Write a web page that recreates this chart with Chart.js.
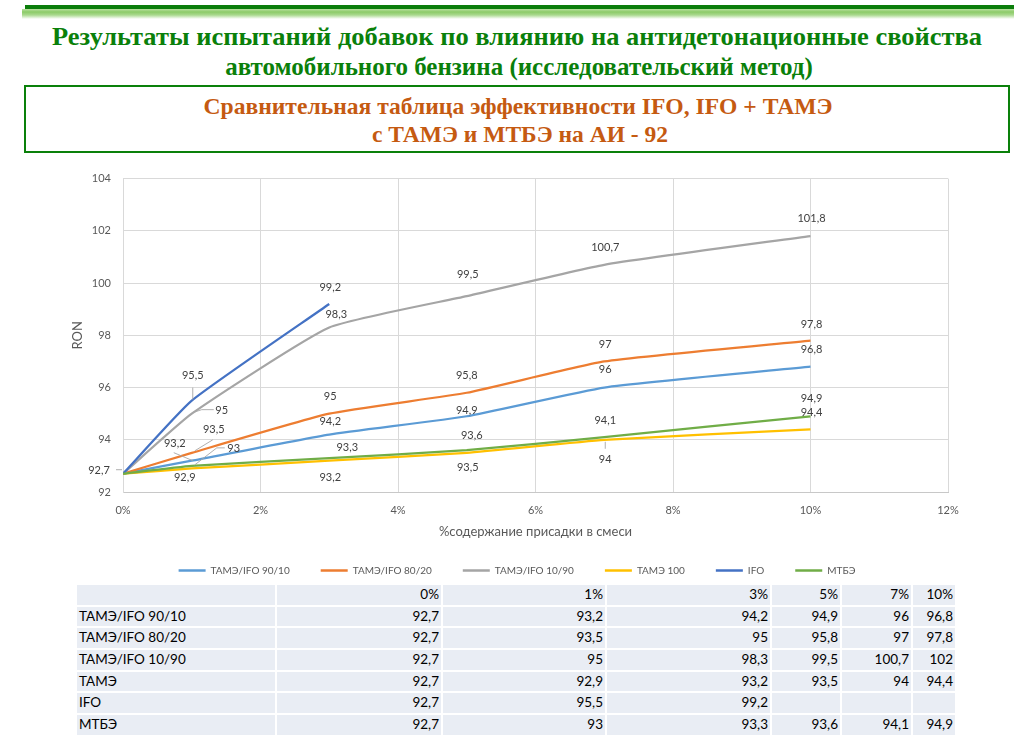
<!DOCTYPE html>
<html><head><meta charset="utf-8">
<script src="https://cdn.jsdelivr.net/npm/chart.js@4.4.1/dist/chart.umd.min.js"></script>
<style>
html,body{margin:0;padding:0;background:#fff;}
body{width:1029px;height:736px;overflow:hidden;position:relative;font-family:Lato,sans-serif;}
.bar{position:absolute;left:25px;top:5px;width:989px;height:4px;background:#0b7d0b;}
.glow{position:absolute;left:22px;top:9px;width:992px;height:10px;background:linear-gradient(to bottom,#b9e0a0 0%,#8ccb68 30%,#a9d98e 60%,#ffffff 100%);}
.ttl{position:absolute;white-space:nowrap;font-family:"Liberation Serif",serif;font-weight:bold;display:inline-block;}
.t1{font-size:26px;line-height:26px;color:#0a800a;}
.t2{font-size:24px;line-height:24px;color:#c55a11;}
.box{position:absolute;left:24px;top:85px;width:982px;height:64px;border:2.5px solid #0a800a;}
#wrap{position:absolute;left:0;top:160px;width:1029px;height:426px;z-index:2;}
#tbl{position:absolute;left:75px;top:583px;border-collapse:separate;border-spacing:2px;font-family:Lato,sans-serif;font-size:13.5px;color:#000;table-layout:fixed;width:882px;z-index:1;}
#tbl td{background:#e9edf4;height:19.67px;padding:0 2px;line-height:19.67px;text-align:right;box-sizing:border-box;white-space:nowrap;overflow:hidden;}
#tbl td:first-child{text-align:left;}
</style>
</head><body>
<div class="bar"></div><div class="glow"></div>
<span class="ttl t1" id="h1">Результаты испытаний добавок по влиянию на антидетонационные свойства</span>
<span class="ttl t1" id="h2">автомобильного бензина (исследовательский метод)</span>
<div class="box"></div>
<span class="ttl t2" id="s1">Сравнительная таблица эффективности IFO, IFO + ТАМЭ</span>
<span class="ttl t2" id="s2">с ТАМЭ и МТБЭ на АИ - 92</span>
<div id="wrap"><canvas id="c" width="1029" height="426"></canvas></div>
<table id="tbl"><colgroup><col style="width:198px"><col style="width:164px"><col style="width:162px"><col style="width:163px"><col style="width:68px"><col style="width:69px"><col style="width:42px"></colgroup><tbody id="tb"></tbody></table>
<script>
// ---- data ----
const percents = [0, 1, 3, 5, 7, 10];
const seriesNames = ['ТАМЭ/IFO 90/10', 'ТАМЭ/IFO 80/20', 'ТАМЭ/IFO 10/90', 'ТАМЭ 100', 'IFO', 'МТБЭ'];
const tameIfo90_10 = [92.7, 93.2, 94.2, 94.9, 96, 96.8];
const tameIfo80_20 = [92.7, 93.5, 95, 95.8, 97, 97.8];
const tameIfo10_90 = [92.7, 95, 98.3, 99.5, 100.7, 101.8];
const tame100 = [92.7, 92.9, 93.2, 93.5, 94, 94.4];
const ifo = [92.7, 95.5, 99.2];
const mtbe = [92.7, 93, 93.3, 93.6, 94.1, 94.9];
const tableRowNames = ['ТАМЭ/IFO 90/10', 'ТАМЭ/IFO 80/20', 'ТАМЭ/IFO 10/90', 'ТАМЭ', 'IFO', 'МТБЭ'];
const tableOverrides = {'2-5': '102'}; // cell shown rounded in the source table
const xTitle = '%содержание присадки в смеси';
const yTitle = 'RON';

const allSeries = [tameIfo90_10, tameIfo80_20, tameIfo10_90, tame100, ifo, mtbe];
const colors = ['#5b9bd5', '#ed7d31', '#a5a5a5', '#ffc000', '#4472c4', '#70ad47'];

// label placement (offsets from the point in px, optional leader line)
const labelPlacement = [
  [[-24, -3.5, [[-7, -4], [-1, -4]]], [-17, -17, [[-18, -8], [1, 0]]], [1, -13], [0, -6], [1, -18], [1, -17]],
  [null, [22, -23, [[21, -13], [3, -2]]], [1, -17], [0, -17], [1, -17], [1, -16]],
  [null, [30, -3, [[22, -4], [10, -4], [1, -1]]], [7, -13], [1, -22], [1, -17], [1, -18]],
  [null, [-7, 9], [1, 17], [1, 15], [1, 20, [[1, 2], [1, 9]]], [1, -17]],
  [null, [1, -25, [[1, -13], [1, -1]]], [1, -17]],
  [null, [42, -17, [[33, -18], [25, -18], [3, -1]]], [18, -11], [5, -15], [1, -17], [1, -18]]
];

const fmt = v => String(v).replace('.', ',');

function fit(id, cx, cy, w) {
  const el = document.getElementById(id);
  el.style.left = cx + 'px'; el.style.top = cy + 'px';
  const s = w / el.offsetWidth;
  el.style.transform = 'translate(-50%,-50%) scaleX(' + s + ')';
}

function buildTable() {
  const tb = document.getElementById('tb');
  let html = '<tr><td></td>' + percents.map(p => '<td>' + p + '%</td>').join('') + '</tr>';
  tableRowNames.forEach((n, r) => {
    html += '<tr><td>' + n + '</td>';
    percents.forEach((p, i) => {
      const v = allSeries[r][i];
      const key = r + '-' + i;
      html += '<td>' + (v === undefined ? '' : (tableOverrides[key] || fmt(v))) + '</td>';
    });
    html += '</tr>';
  });
  tb.innerHTML = html;
}

const labelPlugin = {
  id: 'pointLabels',
  afterLayout(chart) {
    if (chart.legend) { chart.legend.left += 10; chart.legend.right += 10; }
  },
  afterDatasetsDraw(chart) {
    const ctx = chart.ctx;
    ctx.save();
    ctx.font = '11px Lato';
    ctx.fillStyle = '#404040';
    ctx.strokeStyle = '#a6a6a6';
    ctx.lineWidth = 0.9;
    ctx.textAlign = 'center';
    ctx.textBaseline = 'middle';
    chart.data.datasets.forEach((ds, di) => {
      const meta = chart.getDatasetMeta(di);
      const place = labelPlacement[di];
      meta.data.forEach((pt, i) => {
        const p = place[i];
        if (!p) return;
        const [dx, dy, leader] = p;
        if (leader) {
          ctx.beginPath();
          leader.forEach(([lx, ly], k) => k ? ctx.lineTo(pt.x + lx, pt.y + ly) : ctx.moveTo(pt.x + lx, pt.y + ly));
          ctx.stroke();
        }
        ctx.fillText(fmt(ds.data[i].y), pt.x + dx, pt.y + dy);
      });
    });
    ctx.restore();
  }
};

function draw() {
  fit('h1', 517, 37, 930);
  fit('h2', 518.5, 67, 587);
  fit('s1', 517.5, 106, 629);
  fit('s2', 520, 134, 296);
  buildTable();

  const datasets = allSeries.map((vals, si) => ({
    label: seriesNames[si],
    data: vals.map((v, i) => ({x: percents[i], y: v})),
    borderColor: colors[si],
    backgroundColor: colors[si],
    borderWidth: 2.25,
    pointRadius: 0,
    tension: 0.15,
    fill: false,
    order: -si
  }));

  new Chart(document.getElementById('c'), {
    type: 'line',
    data: {datasets},
    plugins: [labelPlugin],
    options: {
      responsive: false,
      animation: false,
      layout: {padding: {left: 66, right: 81, top: 18, bottom: 0.5}},
      plugins: {
        tooltip: {enabled: false},
        legend: {
          position: 'bottom',
          labels: {
            boxWidth: 27, boxHeight: 2.5, padding: 31, color: '#595959',
            font: {family: 'Lato', size: 10},
            sort: (a, b) => a.datasetIndex - b.datasetIndex,
            generateLabels(chart) {
              const items = Chart.defaults.plugins.legend.labels.generateLabels(chart);
              items.forEach(it => { it.lineWidth = 0; it.fillStyle = colors[it.datasetIndex]; });
              return items;
            }
          }
        }
      },
      scales: {
        x: {
          type: 'linear', min: 0, max: 12,
          afterFit: s => { s.height = 42.5; },
          ticks: {stepSize: 2, padding: 12, color: '#595959', font: {family: 'Lato', size: 11}, callback: v => v + '%'},
          grid: {color: '#d9d9d9', drawTicks: false},
          border: {color: '#c8c8c8'},
          title: {display: true, text: xTitle, color: '#595959', font: {family: 'Lato', size: 13}, padding: {top: 0, bottom: -5}}
        },
        y: {
          min: 92, max: 104,
          afterFit: s => { s.width = 57; },
          ticks: {stepSize: 2, padding: 12, color: '#595959', font: {family: 'Lato', size: 11}},
          grid: {color: '#d9d9d9', drawTicks: false},
          border: {color: '#d9d9d9'},
          title: {display: true, text: yTitle, color: '#595959', font: {family: 'Lato', size: 13}, padding: {top: 4, bottom: 4}}
        }
      }
    }
  });
}

if (document.fonts && document.fonts.ready) document.fonts.ready.then(draw); else draw();
</script>
</body></html>
